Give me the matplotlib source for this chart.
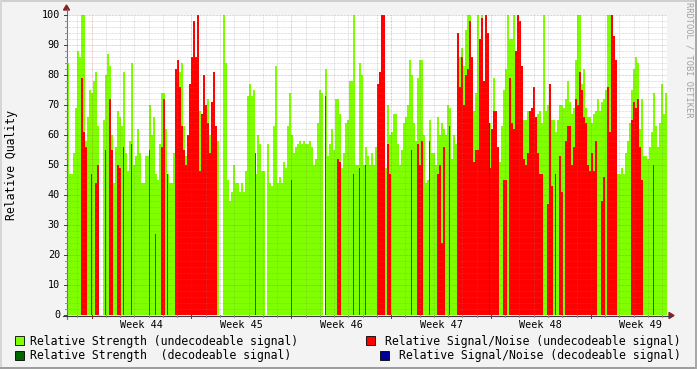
import numpy as np
import matplotlib
matplotlib.use("Agg")
import matplotlib.pyplot as plt
from matplotlib.lines import Line2D
from matplotlib.patches import Rectangle, Polygon

# ---------------- data (one value per 2-pixel time bin, ~3.4 h) ----------------
strength_undecodeable = [
    84, 47, 47, 54, 69, 88, 86, 100, 100, 58, 66, 75, 74, 78, 81, 63, 0, 0, 65, 80,
    87, 83, 60, 44, 56, 68, 66, 63, 81, 54, 48, 58, 84, 50, 53, 62, 54, 44, 44, 53,
    53, 70, 60, 66, 47, 45, 57, 74, 74, 62, 47, 44, 44, 54, 82, 85, 81, 84, 63, 53,
    50, 50, 50, 50, 50, 50, 68, 60, 60, 68, 72, 60, 60, 67, 60, 58, 0, 0, 100, 84,
    45, 38, 41, 50, 44, 44, 41, 44, 41, 48, 73, 77, 73, 75, 47, 60, 57, 48, 48, 0,
    57, 44, 43, 63, 83, 44, 46, 44, 51, 49, 63, 74, 60, 54, 56, 57, 58, 57, 58, 57,
    57, 58, 56, 50, 52, 64, 75, 74, 0, 82, 53, 57, 62, 55, 72, 72, 67, 49, 54, 64,
    65, 78, 78, 100, 50, 50, 84, 80, 50, 56, 53, 50, 54, 50, 56, 56, 77, 60, 60, 49,
    70, 60, 61, 67, 67, 57, 50, 55, 64, 66, 70, 85, 80, 64, 58, 79, 85, 85, 60, 44,
    45, 65, 54, 54, 50, 66, 60, 64, 62, 60, 70, 69, 52, 60, 57, 80, 86, 89, 83, 95,
    100, 100, 81, 68, 74, 100, 92, 100, 67, 60, 60, 64, 62, 79, 68, 56, 51, 63, 75, 82,
    100, 92, 92, 100, 86, 100, 60, 60, 65, 65, 68, 68, 55, 71, 65, 67, 68, 64, 100, 68,
    70, 67, 65, 65, 61, 65, 70, 70, 69, 72, 78, 71, 67, 69, 85, 100, 100, 77, 82, 69,
    66, 66, 64, 67, 68, 72, 68, 71, 72, 75, 100, 100, 100, 60, 66, 47, 47, 49, 47, 54,
    58, 64, 75, 82, 86, 84, 62, 72, 53, 53, 52, 56, 61, 74, 63, 56, 64, 77, 67, 74,
]
snr_undecodeable = [
    0, 0, 0, 0, 0, 0, 0, 79, 61, 56, 0, 0, 47, 0, 44, 50, 0, 0, 0, 55,
    0, 72, 55, 0, 0, 50, 49, 0, 56, 0, 0, 0, 57, 0, 0, 0, 0, 0, 0, 0,
    0, 55, 0, 0, 27, 0, 0, 56, 72, 0, 47, 0, 0, 0, 82, 85, 76, 63, 55, 50,
    60, 77, 86, 98, 86, 100, 48, 67, 80, 70, 64, 54, 71, 81, 63, 0, 0, 0, 0, 0,
    0, 0, 0, 0, 0, 0, 0, 0, 0, 0, 0, 0, 0, 0, 54, 0, 0, 0, 0, 0,
    0, 0, 0, 0, 0, 0, 0, 0, 0, 0, 0, 0, 45, 0, 0, 0, 0, 0, 0, 0,
    0, 0, 0, 0, 0, 0, 0, 0, 0, 73, 0, 0, 0, 0, 0, 52, 51, 0, 0, 0,
    0, 0, 0, 47, 0, 0, 49, 0, 0, 50, 0, 0, 0, 0, 0, 77, 81, 100, 100, 0,
    57, 47, 0, 0, 0, 0, 0, 0, 0, 0, 0, 0, 55, 0, 0, 57, 50, 58, 0, 0,
    0, 58, 0, 0, 0, 47, 50, 24, 56, 0, 0, 63, 0, 0, 0, 94, 76, 86, 70, 80,
    82, 98, 86, 51, 55, 55, 92, 99, 78, 100, 94, 49, 62, 68, 68, 56, 0, 0, 45, 45,
    0, 79, 64, 62, 88, 100, 98, 83, 52, 50, 54, 68, 69, 76, 66, 54, 47, 47, 0, 0,
    37, 77, 43, 0, 47, 0, 53, 41, 0, 58, 63, 63, 50, 56, 72, 70, 81, 75, 66, 64,
    50, 48, 54, 48, 58, 0, 0, 38, 46, 0, 76, 61, 100, 93, 85, 0, 0, 0, 0, 0,
    0, 0, 65, 71, 69, 72, 56, 45, 0, 0, 0, 0, 0, 50, 0, 0, 0, 0, 0, 0,
]
strength_decodeable = [0] * 300
strength_decodeable[211] = 64
snr_decodeable = [0] * 300

week_labels = ["Week 44", "Week 45", "Week 46", "Week 47", "Week 48", "Week 49"]
y_ticks = list(range(0, 101, 10))
legend_labels = [
    "Relative Strength (undecodeable signal)",
    "Relative Signal/Noise (undecodeable signal)",
    "Relative Strength  (decodeable signal)",
    "Relative Signal/Noise (decodeable signal)",
]

# ---------------- layout ----------------
W, H = 697, 369
L, R, B, T = 67, 667, 315, 15
DAY_PX = 14.26
BIN_DAYS = 2 / DAY_PX
FIRST_WEEK = 1.73  # day offset of first week boundary
FONT = "DejaVu Sans Mono"

C_GREEN = "#7FFF00"
C_RED = "#FF0000"
C_DGREEN = "#006600"
C_BLUE = "#000099"
C_BG = "#F3F3F3"


def fx(px):
    return px / W


def fy(py):
    return 1 - py / H


fig = plt.figure(figsize=(W / 100, H / 100), dpi=100)
fig.patch.set_facecolor(C_BG)
ax = fig.add_axes([fx(L), fy(B), (R - L) / W, (B - T) / H])
ax.set_facecolor("white")
for s in ax.spines.values():
    s.set_visible(False)
ax.set_xticks([])
ax.set_yticks([])

n = len(strength_undecodeable)
x = np.arange(n) * BIN_DAYS
xmax = (R - L) / DAY_PX
ax.set_xlim(0, xmax)
ax.set_ylim(0, 100)

ax.bar(x, strength_undecodeable, width=BIN_DAYS, align="edge", color=C_GREEN,
       linewidth=0, antialiased=False, zorder=2)
# isolated SNR samples are drawn one pixel wide, runs fill the whole bin
red = np.asarray(snr_undecodeable, dtype=float)
prev = np.r_[0, red[:-1]]
nxt = np.r_[red[1:], 0]
red_w = np.where((prev == 0) & (nxt == 0), BIN_DAYS / 2, BIN_DAYS)
ax.bar(x, red, width=red_w, align="edge", color=C_RED, linewidth=0,
       antialiased=False, zorder=2)
ax.bar(x, strength_decodeable, width=BIN_DAYS / 2, align="edge", color=C_DGREEN,
       linewidth=0, antialiased=False, zorder=2)
ax.bar(x, snr_decodeable, width=BIN_DAYS / 2, align="edge", color=C_BLUE,
       linewidth=0, antialiased=False, zorder=2)

# grid on top (semi-transparent dotted)
dots = (0, (0.72, 0.72))
for v in range(2, 101, 2):
    major = v % 10 == 0
    ax.axhline(v, color="#B04040" if major else "#808080", alpha=0.35 if major else 0.3,
               lw=0.72, linestyle=dots, zorder=3)
d = FIRST_WEEK - 1
while d < xmax:
    k = round(d - FIRST_WEEK)
    major = k % 7 == 0
    ax.axvline(d, color="#B04040" if major else "#808080", alpha=0.35 if major else 0.3,
               lw=0.72, linestyle=dots, zorder=3)
    d += 1

# axes lines with arrows
AX_C = "#3A3A4A"
ARR_C = "#8B2020"
fig.add_artist(Line2D([fx(L - 0.5), fx(L - 0.5)], [fy(B + 4), fy(9)], color="#707070", lw=0.8))
fig.add_artist(Line2D([fx(L - 4), fx(670)], [fy(B + 0.5), fy(B + 0.5)], color=AX_C, lw=0.8))
fig.add_artist(Polygon([[fx(L - 3.5), fy(10)], [fx(L + 2.5), fy(10)], [fx(L - 0.5), fy(5)]],
                       closed=True, color=ARR_C, transform=fig.transFigure))
fig.add_artist(Polygon([[fx(669), fy(B - 2.5)], [fx(669), fy(B + 3.5)], [fx(674), fy(B + 0.5)]],
                       closed=True, color=ARR_C, transform=fig.transFigure))

# y ticks
for v in range(0, 101, 2):
    py = B - 3 * v
    major = v % 10 == 0
    fig.add_artist(Line2D([fx(L - (3 if major else 2)), fx(L)], [fy(py), fy(py)],
                          color=ARR_C if major else "#909090", lw=0.7))
for v in y_ticks:
    fig.text(fx(60), fy(B - 3 * v), str(v), ha="right", va="center",
             fontsize=7.3, family=FONT, color="black")

# x ticks and labels
d = FIRST_WEEK - 1
while d < xmax:
    k = round(d - FIRST_WEEK)
    major = k % 7 == 0
    px = L + d * DAY_PX
    fig.add_artist(Line2D([fx(px), fx(px)], [fy(B + (3 if major else 2)), fy(B)],
                          color=ARR_C if major else "#909090", lw=0.7))
    d += 1
for i, lab in enumerate(week_labels):
    px = L + (FIRST_WEEK + 3.5 + 7 * i) * DAY_PX
    fig.text(fx(px), fy(325), lab, ha="center", va="center", fontsize=7.3, family=FONT)

# axis label and watermark
fig.text(fx(12), fy(165), "Relative Quality", rotation=90, ha="center", va="center",
         fontsize=8.3, family=FONT)
fig.text(fx(689), fy(60), "RRDTOOL / TOBI OETIKER", rotation=270, ha="center", va="center",
         fontsize=6.2, family=FONT, color="#A0A0A0")

# legend
leg_pos = [(15, 336, 30, "left"), (366, 336, 681, "right"),
           (15, 351, 30, "left"), (380, 351, 681, "right")]
leg_cols = [C_GREEN, C_RED, C_DGREEN, C_BLUE]
for (sx, sy, tx, ha), col, lab in zip(leg_pos, leg_cols, legend_labels):
    fig.add_artist(Rectangle((fx(sx), fy(sy + 9)), 9 / W, 9 / H, facecolor=col,
                             edgecolor="black", lw=0.6, transform=fig.transFigure))
    fig.text(fx(tx), fy(sy + 5), lab, ha=ha, va="center", fontsize=8.3, family=FONT)

# 3D frame
fig.add_artist(Rectangle((0, fy(2)), 1, 2 / H, color="#CFCFCF", transform=fig.transFigure, lw=0))
fig.add_artist(Rectangle((0, 0), 2 / W, 1, color="#D6D6D6", transform=fig.transFigure, lw=0))
fig.add_artist(Rectangle((0, 0), 1, 2 / H, color="#9E9E9E", transform=fig.transFigure, lw=0))
fig.add_artist(Rectangle((fx(W - 2), 0), 2 / W, 1, color="#A8A8A8", transform=fig.transFigure, lw=0))

fig.savefig("out.png", dpi=100, facecolor=fig.get_facecolor())
